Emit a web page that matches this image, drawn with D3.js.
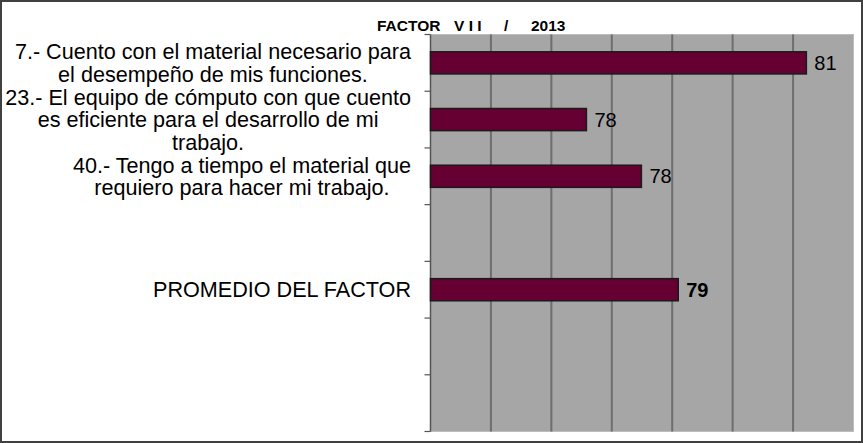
<!DOCTYPE html>
<html>
<head>
<meta charset="utf-8">
<script src="https://cdn.jsdelivr.net/npm/d3@7"></script>
<style>
  html, body { margin: 0; padding: 0; background: #fff; }
  svg { display: block; font-family: "Liberation Sans", Arial, sans-serif; }
</style>
</head>
<body>
<svg id="chart" width="863" height="443"></svg>
<script>
// ---- data ----
const titleParts = ["FACTOR", "V I I", "/", "2013"];
const categories = [
  ["7.- Cuento con el material necesario para", "el desempeño de mis funciones."],
  ["23.- El equipo de cómputo con que cuento", "es eficiente para el desarrollo de mi", "trabajo."],
  ["40.- Tengo a tiempo el material que", "requiero para hacer mi trabajo."],
  [""],
  ["PROMEDIO DEL FACTOR"],
  [""],
  [""]
];
const values = [81.22, 77.58, 78.49, null, 79.10, null, null];
const boldLabel = [false, false, false, false, true, false, false];
const xDomain = [75, 82];
const xTicks = [75, 76, 77, 78, 79, 80, 81, 82];

// ---- layout ----
const W = 863, H = 443;
const plot = { left: 430.5, right: 853.5, top: 34.5, bottom: 431.5 };
const svg = d3.select("#chart");

// outer frame
svg.append("rect").attr("x", 1).attr("y", 1).attr("width", W - 2).attr("height", H - 2)
  .attr("fill", "#fff").attr("stroke", "#404040").attr("stroke-width", 2);

const x = d3.scaleLinear().domain(xDomain).range([plot.left, plot.right]);
const y = d3.scaleBand().domain(d3.range(categories.length))
  .range([plot.top, plot.bottom]).paddingInner(0.61).paddingOuter(0.305);
const yBand = d3.scaleBand().domain(d3.range(categories.length))
  .range([plot.top, plot.bottom]);

// plot background
svg.append("rect").attr("x", plot.left).attr("y", plot.top)
  .attr("width", plot.right - plot.left).attr("height", plot.bottom - plot.top)
  .attr("fill", "#a6a6a6").attr("stroke", "#bdbdbd").attr("stroke-width", 1);

// vertical gridlines
svg.append("g").selectAll("line").data(xTicks.slice(1, -1)).join("line")
  .attr("x1", d => x(d)).attr("x2", d => x(d))
  .attr("y1", plot.top).attr("y2", plot.bottom)
  .attr("stroke", "#6e6e6e").attr("stroke-width", 2);

// left axis with ticks at category boundaries
const boundaries = d3.range(categories.length + 1).map(i => plot.top + i * yBand.step());
const ax = svg.append("g");
ax.append("line").attr("x1", plot.left).attr("x2", plot.left)
  .attr("y1", plot.top).attr("y2", plot.bottom).attr("stroke", "#555").attr("stroke-width", 1.5);
ax.selectAll("line.tk").data(boundaries).join("line").attr("class", "tk")
  .attr("x1", plot.left - 6).attr("x2", plot.left)
  .attr("y1", d => d).attr("y2", d => d)
  .attr("stroke", "#555").attr("stroke-width", 1.2);

// bars
const data = values.map((v, i) => ({ v, i })).filter(d => d.v !== null);
svg.append("g").selectAll("rect").data(data).join("rect")
  .attr("x", plot.left).attr("y", d => y(d.i))
  .attr("width", d => x(d.v) - plot.left).attr("height", y.bandwidth())
  .attr("fill", "#660033").attr("stroke", "#1a1a1a").attr("stroke-width", 1.5);

// value labels
svg.append("g").selectAll("text").data(data).join("text")
  .attr("x", d => x(d.v) + 8)
  .attr("y", d => y(d.i) + y.bandwidth() / 2)
  .attr("dy", "0.36em")
  .attr("font-size", 20)
  .attr("font-weight", d => boldLabel[d.i] ? "bold" : "normal")
  .attr("fill", "#000")
  .text(d => Math.round(d.v));

// category labels
const fs = 21.6, lh = 22.5, rightEdge = 411;
const lg = svg.append("g");
categories.forEach((lines, i) => {
  if (lines.length === 1 && lines[0] === "") return;
  const cy = yBand(i) + yBand.bandwidth() / 2;
  const t = lg.append("text").attr("font-size", fs).attr("fill", "#000")
    .attr("text-anchor", "middle");
  const ts = lines.map((ln, k) => t.append("tspan")
    .attr("y", cy + (k - (lines.length - 1) / 2) * lh)
    .attr("dy", "0.36em").text(ln));
  const maxW = d3.max(ts, s => s.node().getComputedTextLength());
  ts.forEach(s => s.attr("x", rightEdge - maxW / 2));
});

// title
const titleX = [377, 454, 504, 531];
const tt = svg.append("text").attr("y", 31)
  .attr("font-size", 15.5).attr("font-weight", "bold").attr("fill", "#000");
titleParts.forEach((p, i) => tt.append("tspan").attr("x", titleX[i]).text(p));
</script>
</body>
</html>
